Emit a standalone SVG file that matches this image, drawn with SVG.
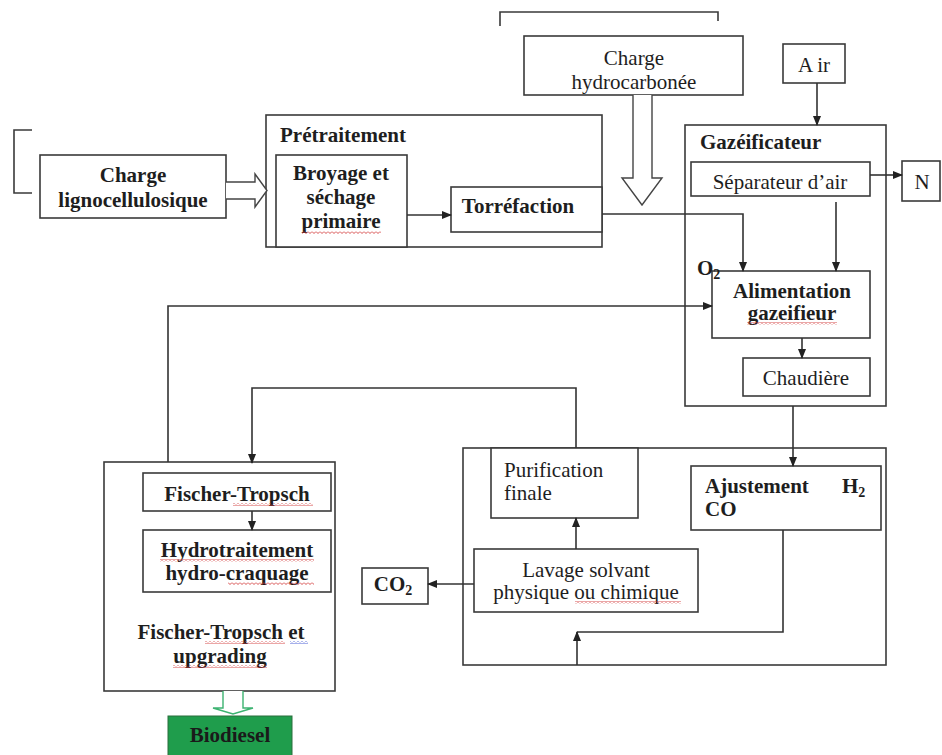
<svg xmlns="http://www.w3.org/2000/svg" width="942" height="755" viewBox="0 0 942 755">
<style>
.box{fill:#fff;stroke:#3a3a3a;stroke-width:1.6}
.frame{fill:none;stroke:#3a3a3a;stroke-width:1.6}
.t{font-family:"Liberation Serif","Times New Roman",serif;font-size:21px;fill:#1e1e1e}
.b{font-weight:bold}
.c{text-anchor:middle}
.ln{fill:none;stroke:#333;stroke-width:1.6}
.arr{marker-end:url(#ah)}
.hollow{fill:#fff;stroke:#444;stroke-width:1.4}
.sub{font-size:14px}
.wr{fill:url(#wavyR)}
.wb{fill:url(#wavyB)}
</style>
<defs>
<marker id="ah" markerWidth="10" markerHeight="8" refX="9" refY="4" orient="auto" markerUnits="userSpaceOnUse"><path d="M0,0 L10,4 L0,8 z" fill="#222"/></marker>
<pattern id="wavyR" width="4" height="3" patternUnits="userSpaceOnUse"><path d="M0,0.5 L2,2.5 L4,0.5" fill="none" stroke="#d23a3a" stroke-width="0.9"/></pattern>
<pattern id="wavyB" width="4" height="3" patternUnits="userSpaceOnUse"><path d="M0,0.5 L2,2.5 L4,0.5" fill="none" stroke="#3a4fd2" stroke-width="0.9"/></pattern>
</defs>
<rect width="942" height="755" fill="#fff"/>

<!-- decorative brackets -->
<path class="frame" d="M32,130 H14 V193 H32"/>
<path class="frame" d="M500,26 V12 H718 V21"/>

<g id="charge-ligno">
<rect class="box" x="40" y="155" width="186" height="63"/>
<text class="t b c" x="133" y="182">Charge</text>
<text class="t b c" x="133" y="207">lignocellulosique</text>
</g>

<g id="pretraitement">
<rect class="box" x="266" y="115" width="336" height="132"/>
<text class="t b" x="280" y="142">Prétraitement</text>
</g>

<g id="broyage">
<rect class="box" x="276" y="155" width="131" height="92"/>
<text class="t b c" x="341" y="180">Broyage et</text>
<text class="t b c" x="341" y="204">séchage</text>
<text class="t b c" x="341" y="228">primaire</text>
<rect class="wr" x="302" y="231" width="79" height="3"/>
</g>

<g id="torrefaction">
<rect class="box" x="451" y="187" width="151" height="45"/>
<text class="t b c" x="518" y="213">Torréfaction</text>
</g>

<g id="charge-hydro">
<rect class="box" x="524" y="36" width="219" height="59"/>
<text class="t c" x="634" y="65">Charge</text>
<text class="t c" x="634" y="89">hydrocarbonée</text>
</g>

<g id="air">
<rect class="box" x="783" y="44" width="62" height="39"/>
<text class="t c" x="814" y="72">A<tspan dx="4">ir</tspan></text>
</g>

<g id="gazeificateur">
<rect class="box" x="685" y="125" width="201" height="281"/>
<text class="t b" x="700" y="149">Gazéificateur</text>
</g>

<g id="separateur">
<rect class="box" x="691" y="162" width="179" height="34"/>
<text class="t c" x="780" y="189">Séparateur d’air</text>
</g>

<g id="n">
<rect class="box" x="902" y="161" width="38" height="40"/>
<text class="t c" x="922" y="189">N</text>
</g>

<g id="alimentation">
<rect class="box" x="712" y="271" width="158" height="67"/>
<text class="t b c" x="792" y="298">Alimentation</text>
<text class="t b c" x="792" y="320">gazeifieur</text>
<rect class="wr" x="747" y="322" width="90" height="3"/>
</g>

<g id="o2">
<text class="t b" x="697" y="275">O<tspan class="sub" dy="4">2</tspan></text>
</g>

<g id="chaudiere">
<rect class="box" x="743" y="358" width="127" height="38"/>
<text class="t c" x="806" y="385">Chaudière</text>
</g>

<g id="epuration">
<rect class="box" x="463" y="448" width="423" height="217"/>
</g>

<g id="purification">
<rect class="box" x="491" y="448" width="147" height="70"/>
<text class="t" x="504" y="477">Purification</text>
<text class="t" x="504" y="500">finale</text>
</g>

<g id="ajustement">
<rect class="box" x="691" y="466" width="190" height="64"/>
<text class="t b" x="705" y="493">Ajustement</text>
<text class="t b" x="842" y="493">H<tspan class="sub" dy="4">2</tspan></text>
<text class="t b" x="705" y="516">CO</text>
</g>

<g id="lavage">
<rect class="box" x="474" y="549" width="224" height="63"/>
<text class="t c" x="586" y="577">Lavage solvant</text>
<text class="t c" x="586" y="599">physique ou chimique</text>
<rect class="wr" x="575" y="601" width="106" height="3"/>
</g>

<g id="co2">
<rect class="box" x="362" y="568" width="66" height="36"/>
<text class="t b c" x="393" y="591">CO<tspan class="sub" dy="4">2</tspan></text>
</g>

<g id="ft-upgrading">
<rect class="box" x="104" y="462" width="231" height="229"/>
<text class="t b c" x="221" y="639">Fischer-Tropsch et</text>
<text class="t b c" x="220" y="663">upgrading</text>
<rect class="wr" x="205" y="641" width="80" height="3"/>
<rect class="wb" x="290" y="641" width="18" height="3"/>
<rect class="wr" x="173" y="665" width="94" height="3"/>
</g>

<g id="fischer-tropsch">
<rect class="box" x="143" y="473" width="188" height="38"/>
<text class="t b c" x="237" y="501">Fischer-Tropsch</text>
<rect class="wr" x="233" y="503" width="80" height="3"/>
</g>

<g id="hydrotraitement">
<rect class="box" x="143" y="530" width="188" height="62"/>
<text class="t b c" x="237" y="557">Hydrotraitement</text>
<text class="t b c" x="237" y="580">hydro-craquage</text>
<rect class="wr" x="160" y="559" width="154" height="3"/>
<rect class="wr" x="228" y="582" width="86" height="3"/>
</g>

<g id="biodiesel">
<rect x="168" y="716" width="124" height="42" fill="#1f9d4c" stroke="#2a6e3c" stroke-width="1"/>
<text class="t b c" x="230" y="742" style="fill:#1a1a1a">Biodiesel</text>
</g>

<g id="connectors">
<path class="hollow" d="M226,182 H255 V174 L267,190.5 L255,207 V199 H226"/>
<path class="hollow" d="M633,95 V178 H622 L642,205 L662,178 H652 V95"/>
<path d="M223,691 V708 H213 L233,714 L253,708 H243 V691" fill="#fff" stroke="#3cb371" stroke-width="1.4"/>
<path class="ln arr" d="M407,215 H451"/>
<path class="ln arr" d="M602,214 H743 V271"/>
<path class="ln arr" d="M817,83 V125"/>
<path class="ln arr" d="M870,175 H902"/>
<path class="ln arr" d="M836,202 V271"/>
<path class="ln arr" d="M802,338 V358"/>
<path class="ln arr" d="M793,406 V466"/>
<path class="ln arr" d="M168,462 V306 H712"/>
<path class="ln arr" d="M576,448 V388 H252 V463"/>
<path class="ln arr" d="M576,549 V518"/>
<path class="ln arr" d="M474,584 H428"/>
<path class="ln" d="M783,530 V632 H577"/>
<path class="ln arr" d="M577,665 V632"/>
<path class="ln arr" d="M252,511 V530"/>
</g>
</svg>
